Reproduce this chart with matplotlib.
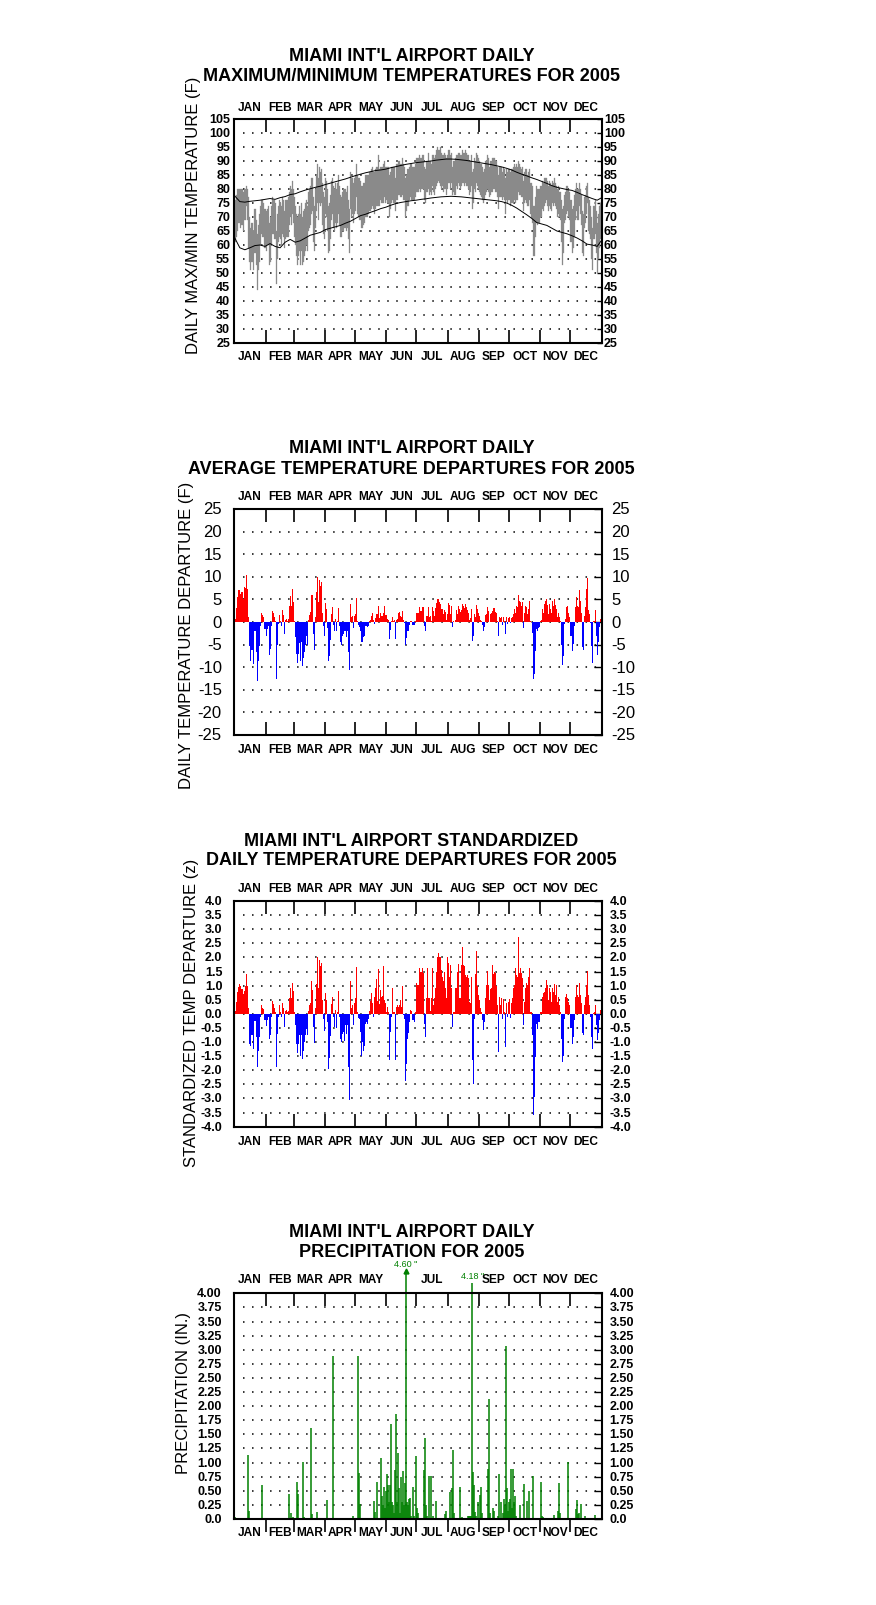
import matplotlib
matplotlib.use('Agg')
import numpy as np
import matplotlib.pyplot as plt
import matplotlib.transforms as mtrans

plt.rcParams['font.family'] = ['Liberation Sans', 'DejaVu Sans']

months = ['JAN', 'FEB', 'MAR', 'APR', 'MAY', 'JUN', 'JUL', 'AUG', 'SEP', 'OCT', 'NOV', 'DEC']
month_len = [31, 28, 31, 30, 31, 30, 31, 31, 30, 31, 30, 31]

# ---- daily max / min temperature (F), Jan 1 .. Dec 31 ----
tmax = [78,76,78,80,80,80,80,80,80,79,80,80,81,80,77,70,66,68,68,65,73,73,69,64,67,71,74,76,76,75,73,
        72,73,74,68,70,74,77,76,76,75,65,71,74,76,75,74,77,76,72,76,76,76,77,79,81,80,83,80,
        77,74,71,70,71,74,71,75,70,72,73,75,76,74,79,80,81,84,84,77,74,80,85,89,84,88,86,87,82,79,77,
        84,83,80,74,75,78,83,84,81,80,82,80,82,85,81,78,77,79,80,80,80,79,81,76,73,86,84,84,82,84,
        85,89,85,84,84,83,81,81,82,82,85,85,85,85,86,86,87,88,86,86,87,88,88,92,87,88,88,88,89,90,88,
        88,88,88,85,86,88,88,88,88,84,89,89,90,90,89,89,91,89,88,84,85,87,87,88,89,89,88,88,88,89,
        91,91,92,91,91,92,92,88,87,90,90,93,90,90,89,92,92,91,92,94,95,94,94,95,93,92,92,93,92,91,92,
        94,94,92,93,88,90,90,91,92,92,93,93,92,92,94,93,93,94,93,92,92,90,90,92,86,87,91,90,93,92,91,
        90,89,89,88,86,87,90,90,92,91,88,90,90,91,91,91,90,90,88,85,88,88,88,86,88,87,84,87,86,87,
        87,86,87,87,88,89,88,89,88,90,89,88,87,88,83,86,87,87,85,86,87,82,82,81,74,74,77,81,80,80,80,
        81,81,83,82,84,84,84,83,81,83,82,81,83,82,84,82,81,80,81,79,79,76,73,74,78,79,81,81,80,79,
        76,73,74,78,80,82,80,80,82,80,78,72,71,77,78,81,82,77,76,74,70,66,74,74,76,72,68,71,74,75,79]
tmin = [63,61,63,65,68,68,66,67,67,65,69,69,74,69,59,54,51,54,54,51,57,57,53,44,51,54,60,64,63,63,59,
        58,60,60,53,54,60,64,64,62,62,46,55,61,63,62,60,64,63,59,62,63,63,63,67,70,67,71,68,
        63,60,56,53,56,58,53,58,53,54,56,58,60,58,65,66,67,71,72,61,58,66,72,75,69,75,74,75,67,64,62,
        71,70,65,57,58,62,69,71,66,65,68,66,68,71,67,63,63,65,65,66,66,65,66,62,57,73,70,71,68,71,
        72,77,71,70,69,69,66,66,67,68,70,70,70,71,72,72,73,74,73,71,73,74,74,74,74,76,75,75,75,77,75,
        76,75,75,70,73,75,76,75,75,72,76,76,78,78,77,77,78,76,76,70,72,74,74,76,77,76,76,76,76,77,
        79,79,80,79,80,80,80,76,75,79,79,80,78,79,78,81,79,78,80,81,82,83,82,81,80,81,79,80,80,78,80,
        82,82,80,82,78,79,78,78,81,80,82,81,80,81,82,82,81,82,81,81,80,78,79,81,73,75,80,79,82,81,80,
        79,78,77,76,75,76,78,79,80,79,77,78,79,79,80,80,79,79,77,73,77,77,77,76,77,76,71,76,75,76,
        76,74,75,75,75,76,75,76,76,79,78,78,77,77,72,75,76,75,74,74,76,71,70,68,56,56,63,68,67,68,68,
        70,70,73,72,74,75,76,74,72,74,73,72,75,74,75,74,73,70,71,70,69,61,53,57,68,69,71,72,70,69,
        61,57,59,63,69,72,69,69,74,71,67,57,56,66,68,71,75,65,64,62,55,51,62,62,64,57,50,55,59,62,62]

# normal max / min, read every 5 days
norm_days = list(range(0, 361, 5)) + [364]
norm_max = [77.5,75.5,75.3,75.6,75.8,76.0,76.3,76.6,76.3,76.9,77.3,78.0,78.3,79.0,79.6,80.1,80.6,81.0,
            81.6,82.1,82.6,83.1,83.6,84.2,84.8,85.3,85.8,86.2,86.6,86.8,87.1,87.6,88.0,88.4,88.8,89.1,
            89.4,89.6,89.8,90.0,90.3,90.5,90.7,90.7,90.6,90.4,90.2,89.9,89.6,89.3,89.0,88.7,88.3,87.9,
            87.4,86.8,86.0,85.3,84.7,84.0,83.4,82.7,82.0,81.2,80.6,80.2,79.8,79.5,78.8,78.0,77.3,76.6,
            76.0,76.8]
norm_min = [62.5,59.0,58.3,59.0,59.8,60.0,59.5,60.5,59.5,59.0,61.0,62.0,61.0,61.5,62.5,63.5,64.0,64.5,
            65.5,66.0,66.5,67.0,67.8,68.5,69.5,70.5,71.0,71.7,72.3,73.0,73.5,74.2,74.8,75.2,75.5,75.8,
            76.0,76.3,76.5,76.8,77.0,77.2,77.3,77.4,77.3,77.2,77.0,76.8,76.6,76.4,76.2,76.0,75.8,75.5,
            75.0,74.2,73.2,72.0,70.8,69.5,68.0,67.5,67.0,66.0,65.0,64.5,64.0,63.3,62.5,61.5,60.3,60.0,
            59.5,61.5]

# ---- daily average temperature departure (F) ----
dep = [2.1,0.7,3,5.5,7,7,6.2,6.6,6.6,5.1,7.7,7.5,10.4,7.3,1,-5.3,-8.6,-6.1,-6.1,-9.2,-2.1,-2.1,-6.6,-13,-8.6,-5.2,-0.8,2.1,1.5,1,-1.5,
       -3.2,-1.5,-0.8,-7.3,-6,-0.8,2.5,2,1,0.3,-12.5,-5,-0.5,1.5,0.3,-0.8,2.7,1.5,-2.7,0.5,0.7,0.3,0.6,3.5,5.8,3.5,7.2,4.4,
       0.3,-3.3,-7,-9.1,-7,-4.7,-8.7,-4.5,-9.7,-7.9,-6.7,-5,-3,-5.1,0.5,1.5,2.3,5.9,5.9,-2.7,-6.1,1,6.6,10,4.5,9.3,7.9,8.8,2.1,-0.8,-3,
       4.2,2.9,-1.4,-8.6,-7.5,-3.9,1.8,3.3,-0.7,-1.9,0.7,-1.9,0.3,3.2,-0.8,-4.5,-5,-3,-2.7,-2.1,-2,-3.4,-2,-6.7,-10.6,4,1,1.4,-1.3,1.3,
       1.8,5.4,0.3,-0.6,-1.2,-1.9,-4.4,-4.4,-3.4,-3.2,-0.8,-0.8,-1,-0.8,0.2,0.5,1.3,2.1,0.4,-0.4,0.8,1.7,1.8,3.6,0.8,2.1,1.3,1.4,2.1,3.6,1.5,
       1.5,0.7,0.5,-3.7,-1.7,0.3,1.0,0.3,0.4,-3.7,0.5,0.7,2.1,2.3,1.4,1.0,2.4,0.5,-0.3,-5.1,-3.6,-2.0,-2.1,-0.6,0.3,0.2,-0.6,-0.6,-0.7,0.3,
       2.1,2,3.3,2.5,2.5,3.3,3.3,-0.8,-1.9,1.4,1.4,3.3,1.2,1.4,0.2,3.3,2.5,1.4,3,4.2,5.1,5.1,4.4,4,2.9,2.9,1.8,2.7,2.3,0.5,1.8,
       4.2,3.8,1.8,3.6,-1,0.3,0.1,0.5,2.7,1.8,3.6,2.9,2.3,2.7,4,3.6,3.2,4,3.3,2.7,2.1,0.5,0.8,2.9,-4.3,-3,1.8,1,3.8,2.9,2.1,
       1.4,0.5,0.2,-0.6,-2.1,-1.2,1.5,1.8,3.3,2.5,0.1,1.8,2.1,2.5,3,3,2.3,2.1,0.3,-3,1,0.8,1.2,-0.7,1,0.2,-2.7,1,-0.4,0.8,
       1.2,-0.3,0.8,1,1.7,2.9,2.1,3.5,3.3,6,4.7,4.4,3.6,4.4,-1.3,2.1,3.5,3.3,1.8,2.9,4.7,0.2,0.1,-2.5,-12.7,-11.6,-6.4,-1.6,-2.1,-1.4,-1.2,
       0.3,0.5,2.9,2.1,4,4.7,5.1,3.8,1.8,4,2.9,1.9,4.7,3.5,5.1,3.8,2.9,1,2.1,1,0.2,-5,-9.5,-7.6,-0.5,0.7,3.3,3.5,2.1,1,
       -3,-6.4,-4.9,-0.8,3.3,5.6,3.5,3.3,7,4.7,1.9,-5.6,-6.1,1.4,3.3,7.2,9.8,2.7,1.8,-0.3,-5.4,-9.1,0.3,0.3,2.7,-3,-7.3,-4.5,-1.2,0.7,0.3]

# ---- standardized daily departure (z) ----
zdep = [0.37,0.1,0.43,0.76,0.95,1.06,1.0,0.87,0.87,0.72,0.8,1.0,1.4,1.0,0.2,-1.06,-1.14,-0.76,-0.76,-1.26,-0.26,-0.26,-0.82,-1.9,-1.3,-0.82,-0.1,0.3,0.22,0.18,-0.23,
        -0.44,-0.23,-0.1,-0.9,-0.75,-0.1,0.45,0.35,0.2,0.05,-1.9,-0.72,-0.1,0.3,0.05,-0.1,0.4,0.22,-0.45,0.1,0.12,0.05,0.1,0.55,0.9,0.55,1.1,0.8,
        0.05,-0.4,-1.06,-1.38,-1.06,-0.74,-1.48,-0.74,-1.6,-1.3,-1.0,-0.76,-0.52,-0.74,0.1,0.3,0.4,1.15,0.85,-0.45,-1.05,0.2,1.05,2.0,0.9,1.9,1.7,1.8,0.5,-0.2,-0.6,
        0.75,0.5,-0.3,-1.95,-1.55,-0.8,0.35,0.6,-0.1,-0.45,0.15,-0.5,0.05,0.8,-0.1,-0.9,-1.0,-0.7,-0.65,-0.95,-0.4,-0.7,-0.4,-1.9,-3.05,1.15,0.2,0.3,-0.4,0.4,
        0.55,1.65,0.05,-0.15,-0.2,-0.65,-1.5,-1.0,-1.3,-1.15,-0.35,-0.3,-0.35,-0.2,0.1,0.45,0.75,0.4,-0.1,0.6,0.9,1.25,0.45,1.6,0.35,0.85,0.6,0.65,1.7,0.5,0.4,
        0.05,0.25,0.05,-1.62,-0.64,-0.1,0.9,0.05,0.07,-1.62,0.25,0.3,0.25,0.3,0.5,0.25,0.98,-0.05,-0.2,-2.37,-1.77,-0.88,-0.67,-0.3,0.15,0.1,-0.23,-0.23,-0.29,0.05,
        1.08,1.02,1.64,1.5,1.5,1.64,1.45,-0.35,-0.82,0.55,1.64,0.55,0.55,0.1,0.55,1.64,0.3,0.55,0.93,1.5,2.03,2.15,2.0,2.0,1.56,1.32,1.17,1.5,0.9,0.55,2.0,
        1.8,1.32,1.74,0.9,-0.46,0.07,0.05,0.93,0.9,1.5,1.76,0.57,0.57,1.74,2.36,1.74,1.68,1.38,1.3,1.36,1.26,0.43,0.37,1.32,-1.65,-2.5,-0.17,1.4,2.24,1.0,0.67,
        0.5,0.2,0.05,-0.23,-0.56,-0.29,0.55,1.02,1.52,1.02,0.5,0.88,0.9,1.74,1.4,1.5,1.44,1.0,0.3,-1.36,0.6,0.3,0.55,-0.17,0.52,0.05,-1.18,0.37,-0.11,0.43,
        0.52,-0.14,0.37,0.55,0.9,1.02,1.62,1.38,1.29,2.71,1.44,1.64,1.44,1.26,-0.4,0.43,0.9,1.08,1.02,1.32,1.64,0.07,0.05,-0.76,-3.6,-2.96,-1.54,-0.35,-0.52,-0.3,-0.3,
        0.07,0.05,0.6,0.73,0.79,0.9,1.2,1.02,0.5,0.9,0.79,0.43,0.93,0.79,1.05,0.67,1.02,0.43,0.6,0.3,0.07,-0.88,-1.72,-1.48,-0.17,0.6,0.7,0.55,0.43,0.3,
        -0.5,-1.06,-0.82,-0.23,0.6,1.02,0.67,0.6,1.08,0.67,0.37,-0.67,-0.76,0.3,0.6,1.02,1.52,0.67,0.3,-0.11,-0.82,-1.26,0.04,0.05,0.3,-0.4,-0.94,-0.67,-0.23,0.12,0.1]

# ---- daily precipitation (in.), only days with rain ----
rain_day = [0,1,2,13,14,27,32,33,36,54,56,58,62,63,68,69,76,77,82,87,92,98,107,108,112,117,122,123,124,
            138,139,141,143,145,146,147,148,149,150,151,152,153,154,155,156,157,158,159,160,161,162,163,
            164,165,166,167,168,169,170,171,172,173,174,175,177,178,180,181,182,188,189,190,191,193,195,
            197,200,205,209,210,214,216,217,218,224,226,229,232,233,234,235,236,237,238,239,240,242,244,
            245,246,248,252,253,254,257,258,261,262,264,266,267,268,269,270,271,272,273,274,275,276,277,
            278,279,283,285,287,290,291,292,296,297,304,305,306,310,315,317,321,322,323,331,336,339,340,
            341,342,344,348,350,352,358]
rain_in = [0.03,0.02,0.01,1.13,0.15,0.60,0.02,0.01,0.01,0.45,0.10,0.03,0.65,0.45,1.01,0.03,1.62,0.09,0.12,
           0.01,0.33,2.88,0.01,0.01,0.01,0.05,2.88,0.82,0.27,
           0.32,0.12,0.66,0.02,1.08,0.41,0.25,0.56,0.20,0.50,0.80,0.60,0.30,0.60,1.68,0.30,0.25,0.10,0.87,
           1.86,0.30,1.17,0.55,0.10,0.75,0.30,0.85,0.25,0.63,4.60,0.30,0.25,0.35,0.38,0.05,0.57,0.05,1.12,
           0.20,0.10,0.87,1.44,0.24,0.05,0.77,0.77,0.05,0.32,0.02,0.09,0.15,0.48,0.55,1.23,0.10,0.57,0.03,
           0.02,0.06,0.06,0.06,0.06,4.18,0.83,0.60,0.13,0.05,0.30,0.42,0.57,0.10,0.02,0.88,2.12,0.10,0.20,
           0.15,0.06,0.80,0.30,0.10,0.35,0.25,3.07,0.55,0.15,0.30,0.35,0.88,0.20,0.88,0.30,0.40,0.05,0.25,
           0.02,0.62,0.32,0.02,0.50,0.76,0.02,0.66,0.05,0.03,0.01,0.01,0.07,0.15,0.64,0.10,1.01,0.01,0.17,
           0.33,0.08,0.11,0.27,0.06,0.02,0.02,0.07]

W, H = 876, 1606
fig = plt.figure(figsize=(W / 100, H / 100), dpi=100)

LEFT, RIGHT = 234.3, 601.7
days = np.arange(365) + 0.5
bounds = np.cumsum(month_len)[:-1]
centers = np.cumsum(month_len) - np.array(month_len) / 2.0


def px_axes(top, bottom):
    return fig.add_axes([LEFT / W, 1 - bottom / H, (RIGHT - LEFT) / W, (bottom - top) / H])


def frame(ax, top, bottom, ticks, labels, lab_kw, padl, padr, rlen, lab_top, lab_bot,
          out_bottom=False, skip_top=()):
    hpx = bottom - top
    ax.set_xlim(0, 365)
    ax.set_ylim(ticks[0], ticks[-1])
    ax.set_xticks([])
    ax.set_yticks(ticks)
    ax.tick_params(axis='y', left=False, right=True, labelleft=False, labelright=False,
                   direction='in', length=rlen, width=1.0)
    for s in ax.spines.values():
        s.set_linewidth(1.5)
    # dotted guide rows
    ax.hlines(ticks[1:-1], 9, 362, colors='black', linestyles=(0, (1, 4.9)), lw=1.1, zorder=0)
    # month boundary marks
    tr = ax.get_xaxis_transform()
    f = 13.0 / hpx
    ax.vlines(bounds, 1 - f, 1, transform=tr, colors='black', lw=1.2)
    if out_bottom:
        ax.vlines(bounds, -f, 0, transform=tr, colors='black', lw=1.2, clip_on=False)
    else:
        ax.vlines(bounds, 0, f, transform=tr, colors='black', lw=1.2)
    for c, m in zip(centers, months):
        if m not in skip_top:
            ax.text(c, (bottom - lab_top) / hpx, m, transform=tr, ha='center', va='center',
                    fontsize=8.6, fontweight='bold')
        ax.text(c, (bottom - lab_bot) / hpx, m, transform=tr, ha='center', va='center',
                fontsize=8.6, fontweight='bold')
    # y labels on both sides
    ytr = ax.get_yaxis_transform()
    tl = mtrans.offset_copy(ytr, fig=fig, x=-padl, y=0, units='points')
    trr = mtrans.offset_copy(ytr, fig=fig, x=padr, y=0, units='points')
    for t, s in zip(ticks, labels):
        ax.text(0, t, s, transform=tl, ha='right', va='center', **lab_kw)
        ax.text(1, t, s, transform=trr, ha='left', va='center', **lab_kw)


def title(y1, y2, l1, l2):
    fig.text(411.5 / W, 1 - y1 / H, l1, ha='center', va='center', fontsize=13, fontweight='bold')
    fig.text(411.5 / W, 1 - y2 / H, l2, ha='center', va='center', fontsize=13, fontweight='bold')


def ylab(x, y, s):
    fig.text(x / W, 1 - y / H, s, rotation=90, ha='center', va='center', fontsize=12)


bold9 = dict(fontsize=9, fontweight='bold')

# ---------- panel 1 ----------
ax1 = px_axes(120, 344)
t1 = np.arange(25, 106, 5)
frame(ax1, 120, 344, t1, [str(v) for v in t1], bold9, 3, 1.5, 3.6, 108, 356.7)
ax1.bar(days, np.array(tmax) - np.array(tmin), bottom=tmin, width=1.0,
        color='#8a8a8a', edgecolor='#8a8a8a', lw=0.2, zorder=2)
ax1.plot(np.array(norm_days) + 0.5, norm_max, color='black', lw=0.7, zorder=3)
ax1.plot(np.array(norm_days) + 0.5, norm_min, color='black', lw=0.7, zorder=3)
title(56.7, 76.7, "MIAMI INT'L AIRPORT DAILY", "MAXIMUM/MINIMUM TEMPERATURES FOR 2005")
ylab(193.3, 215, 'DAILY MAX/MIN TEMPERATURE (F)')

# ---------- panel 2 ----------
ax2 = px_axes(510, 736)
t2 = np.arange(-25, 26, 5)
frame(ax2, 510, 736, t2, [str(v) for v in t2], dict(fontsize=12), 9, 7, 6, 496.7, 750)
dep_a = np.array(dep)
ax2.bar(days, dep_a, width=1.0, color=np.where(dep_a > 0, '#ff0000', '#0000ff'), lw=0, zorder=2)
title(448.3, 469, "MIAMI INT'L AIRPORT DAILY", "AVERAGE TEMPERATURE DEPARTURES FOR 2005")
ylab(186.7, 635, 'DAILY TEMPERATURE DEPARTURE (F)')

# ---------- panel 3 ----------
ax3 = px_axes(902, 1127.7)
t3 = np.arange(-4.0, 4.01, 0.5)
frame(ax3, 902, 1127.7, t3, ['%.1f' % v for v in t3], bold9, 8.5, 5.5, 6, 889, 1141.7)
z_a = np.array(zdep)
ax3.bar(days, z_a, width=1.0, color=np.where(z_a > 0, '#ff0000', '#0000ff'), lw=0, zorder=2)
title(841.7, 860.7, "MIAMI INT'L AIRPORT STANDARDIZED", "DAILY TEMPERATURE DEPARTURES FOR 2005")
ylab(191.7, 1013, 'STANDARDIZED TEMP DEPARTURE (z)')

# ---------- panel 4 ----------
ax4 = px_axes(1294.3, 1520)
t4 = np.arange(0, 4.01, 0.25)
lab4 = ['0.0'] + ['%.2f' % v for v in t4[1:]]
frame(ax4, 1294.3, 1520, t4, lab4, bold9, 9, 5.5, 6, 1280, 1533,
      out_bottom=True, skip_top=('JUN', 'AUG'))
cap = 4.4
rd = np.array(rain_day) + 0.5
ri = np.array(rain_in)
ax4.vlines(rd, 0, np.minimum(ri, cap), colors='#008000', lw=1.1, zorder=2, clip_on=False)
for d, v in zip(rd, ri):
    if v > 4.0:
        top = min(v, cap)
        if v > cap:
            ax4.plot(d, top, marker='^', ms=3.5, color='#008000', clip_on=False, zorder=3)
        ax4.annotate('%.2f "' % v, xy=(d, top), xytext=(0, 2), textcoords='offset points',
                     ha='center', va='bottom', color='#008000', fontsize=6.5,
                     annotation_clip=False)
title(1232.7, 1252.3, "MIAMI INT'L AIRPORT DAILY", "PRECIPITATION FOR 2005")
ylab(183.3, 1393, 'PRECIPITATION (IN.)')

fig.savefig('out.png', dpi=100, facecolor='white')
